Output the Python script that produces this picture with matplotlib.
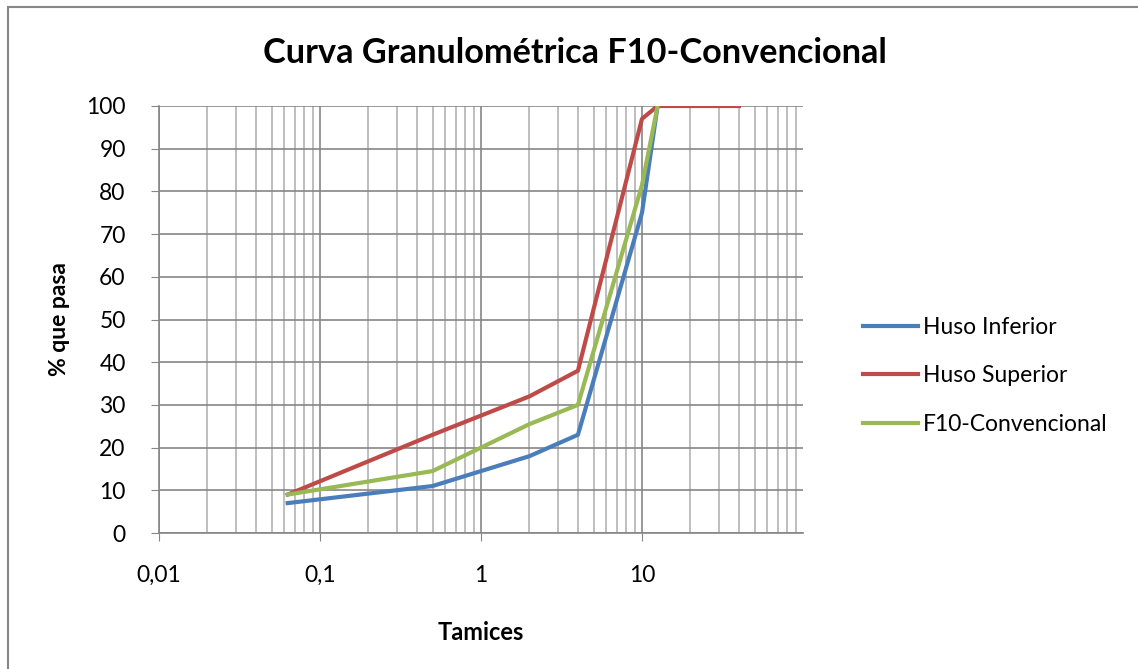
import matplotlib.pyplot as plt
from matplotlib.ticker import FixedLocator, LogLocator, NullFormatter
from matplotlib.patches import Rectangle

plt.rcParams['font.family'] = ['Lato', 'DejaVu Sans']

# aberturas de tamiz (mm) y % que pasa
tamiz_inf = [0.063, 0.5, 2, 4, 10, 12.5]
huso_inferior = [7, 11, 18, 23, 75, 100]
tamiz_sup = [0.063, 0.5, 2, 4, 10, 12.5, 40]
huso_superior = [9, 23, 32, 38, 97, 100, 100]
tamiz_f10 = [0.063, 0.5, 2, 4, 10, 12.5]
f10_conv = [9, 14.5, 25.5, 30, 81.5, 100]

xticks = [0.01, 0.1, 1, 10]
xticklabels = ['0,01', '0,1', '1', '10']

fig = plt.figure(figsize=(11.38, 6.69), dpi=100)
# marco del gráfico (se sale por la derecha y por abajo)
fig.patches.append(Rectangle((8 / 1138, -0.1), 1.5, 1.1 - 7 / 669,
                             transform=fig.transFigure, fill=False,
                             edgecolor='#868686', linewidth=1.5))
ax = fig.add_axes([159 / 1138, 1 - 533 / 669, (803 - 159) / 1138, (533 - 106) / 669])

ax.plot(tamiz_inf, huso_inferior, color='#4a7ebb', lw=3, label='Huso Inferior')
ax.plot(tamiz_sup, huso_superior, color='#be4b48', lw=3, label='Huso Superior')
ax.plot(tamiz_f10, f10_conv, color='#98b954', lw=3, label='F10-Convencional')

ax.set_xscale('log')
ax.set_xlim(0.01, 100)
ax.set_ylim(0, 100)
ax.xaxis.set_major_locator(FixedLocator(xticks))
ax.set_xticklabels(xticklabels)
ax.xaxis.set_minor_locator(LogLocator(base=10, subs=range(2, 10)))
ax.xaxis.set_minor_formatter(NullFormatter())
ax.set_yticks(range(0, 101, 10))

ax.grid(which='major', color='#868686', lw=1.2)
ax.grid(which='minor', axis='x', color='#b3b3b3', lw=1.2)
ax.set_axisbelow(True)
for s in ['top', 'right']:
    ax.spines[s].set_visible(False)
for s in ['left', 'bottom']:
    ax.spines[s].set_color('#868686')
    ax.spines[s].set_linewidth(1.2)
ax.tick_params(which='major', direction='out', length=6, color='#868686',
               labelsize=16.5)
ax.tick_params(axis='y', which='major', pad=18)
ax.tick_params(axis='x', which='major', pad=17)
ax.tick_params(which='minor', length=0)

ax.set_xlabel('Tamices', fontsize=17, fontweight='bold', labelpad=25)
ax.set_ylabel('% que pasa', fontsize=16.5, fontweight='bold', labelpad=12)
fig.text(575 / 1138, 1 - 53 / 669, 'Curva Granulométrica F10-Convencional',
         fontsize=24.7, fontweight='bold', ha='center', va='center')

ax.legend(loc='center left', bbox_to_anchor=(863 / 1138, 1 - 376 / 669),
          bbox_transform=fig.transFigure, frameon=False, fontsize=16.5,
          handlelength=2.4, handletextpad=0.2, labelspacing=1.2,
          borderpad=0, borderaxespad=0)

fig.savefig('out.png', dpi=100)
